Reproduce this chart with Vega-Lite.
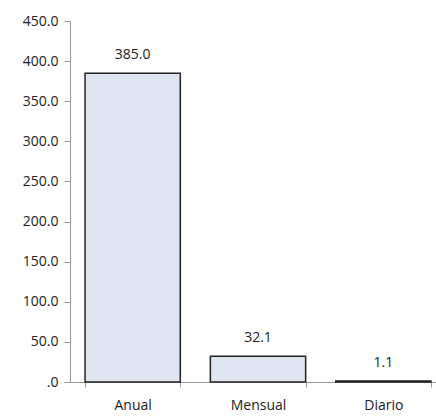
{
  "$schema": "https://vega.github.io/schema/vega-lite/v6.json",
  "autosize": "none",
  "padding": {"left": 70, "top": 21, "right": 0, "bottom": 35},
  "width": 376,
  "height": 361,
  "background": "white",
  "config": {"view": {"stroke": null}, "font": "Open Sans"},
  "data": {"values": [
    {"periodo": "Anual", "valor": 385.0},
    {"periodo": "Mensual", "valor": 32.1},
    {"periodo": "Diario", "valor": 1.1}
  ]},
  "encoding": {
    "x": {"field": "periodo", "type": "nominal", "sort": null,
      "scale": {"paddingInner": 0.24, "paddingOuter": 0.12},
      "axis": {"title": null, "labelAngle": 0, "labelFontSize": 14, "labelColor": "#222", "domainColor": "#999", "tickColor": "#999", "tickBand": "extent", "tickSize": 5, "labelPadding": 11}},
    "y": {"field": "valor", "type": "quantitative",
      "scale": {"domain": [0, 450], "nice": false},
      "axis": {"title": null, "values": [0, 50, 100, 150, 200, 250, 300, 350, 400, 450], "labelExpr": "datum.value == 0 ? '.0' : format(datum.value, '.1f')", "grid": false, "labelFontSize": 14, "labelColor": "#222", "domainColor": "#999", "tickColor": "#999", "tickSize": 6, "labelPadding": 6}}
  },
  "layer": [
    {"mark": {"type": "bar", "fill": "#dfe6f2", "stroke": "#222", "strokeWidth": 1.5}},
    {"mark": {"type": "text", "dy": -18, "fontSize": 14, "color": "#222"},
     "encoding": {"text": {"field": "valor", "type": "quantitative", "format": ".1f"}}}
  ]
}
